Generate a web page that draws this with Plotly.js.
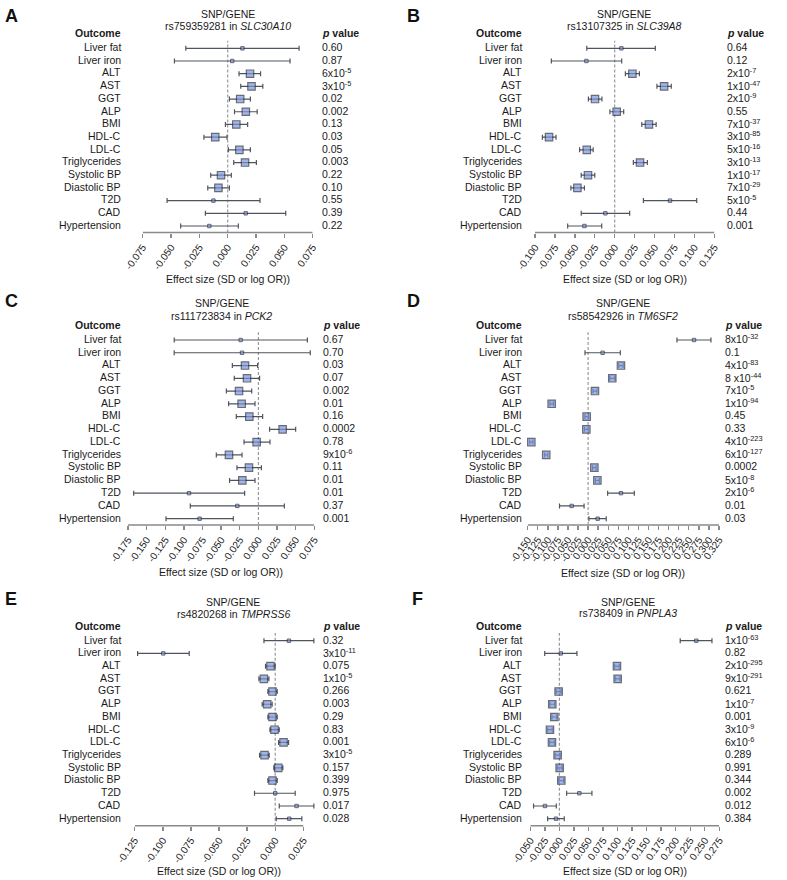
<!DOCTYPE html>
<html>
<head>
<meta charset="utf-8">
<script src="https://cdn.plot.ly/plotly-3.0.1.min.js"></script>
<style>html,body{margin:0;padding:0;background:#fff;}#chart{width:787px;height:880px;}</style>
</head>
<body>
<div id="chart"></div>
<script>
// ---------------- DATA ----------------
const outcomes = ["Liver fat","Liver iron","ALT","AST","GGT","ALP","BMI","HDL-C","LDL-C","Triglycerides","Systolic BP","Diastolic BP","T2D","CAD","Hypertension"];

// Panel A: rs759359281 in SLC30A10
const estA = [0.013, 0.004, 0.0197, 0.021, 0.011, 0.016, 0.0076, -0.011, 0.0103, 0.0153, -0.0059, -0.0082, -0.0126, 0.0159, -0.0162];
const loA  = [-0.037, -0.047, 0.010, 0.0115, 0.0015, 0.006, -0.002, -0.021, 0.0006, 0.0053, -0.015, -0.0176, -0.0535, -0.0197, -0.0415];
const hiA  = [0.063, 0.055, 0.029, 0.031, 0.020, 0.026, 0.0176, -0.0006, 0.020, 0.0253, 0.0032, 0.0015, 0.0285, 0.0512, 0.0094];
const pA   = ["0.60","0.87","6x10<sup>-5</sup>","3x10<sup>-5</sup>","0.02","0.002","0.13","0.03","0.05","0.003","0.22","0.10","0.55","0.39","0.22"];
const ticksA = [-0.075,-0.05,-0.025,0,0.025,0.05,0.075];

// Panel B: rs13107325 in SLC39A8
const estB = [0.0084, -0.0355, 0.0222, 0.062, -0.0247, 0.0025, 0.043, -0.0824, -0.035, 0.0318, -0.0335, -0.0468, 0.0694, -0.0117, -0.038];
const loB  = [-0.035, -0.0795, 0.0134, 0.053, -0.033, -0.006, 0.034, -0.0907, -0.044, 0.0234, -0.042, -0.055, 0.036, -0.042, -0.059];
const hiB  = [0.051, 0.0088, 0.031, 0.071, -0.016, 0.0113, 0.052, -0.0736, -0.027, 0.041, -0.025, -0.038, 0.1029, 0.0188, -0.0163];
const pB   = ["0.64","0.12","2x10<sup>-7</sup>","1x10<sup>-47</sup>","2x10<sup>-9</sup>","0.55","7x10<sup>-37</sup>","3x10<sup>-85</sup>","5x10<sup>-16</sup>","3x10<sup>-13</sup>","1x10<sup>-17</sup>","7x10<sup>-29</sup>","5x10<sup>-5</sup>","0.44","0.001"];
const ticksB = [-0.1,-0.075,-0.05,-0.025,0,0.025,0.05,0.075,0.1,0.125];

// Panel C: rs111723834 in PCK2
const estC = [-0.0238, -0.022, -0.018, -0.0153, -0.026, -0.0225, -0.0122, 0.0325, -0.0024, -0.0395, -0.0127, -0.0216, -0.0931, -0.0283, -0.0789];
const loC  = [-0.113, -0.113, -0.035, -0.0324, -0.043, -0.040, -0.0297, 0.015, -0.0193, -0.0565, -0.0288, -0.0387, -0.1674, -0.0914, -0.124];
const hiC  = [0.0657, 0.0696, -0.001, 0.0016, -0.009, -0.0046, 0.0057, 0.050, 0.0155, -0.022, 0.004, -0.0046, -0.0185, 0.0348, -0.0337];
const pC   = ["0.67","0.70","0.03","0.07","0.002","0.01","0.16","0.0002","0.78","9x10<sup>-6</sup>","0.11","0.01","0.01","0.37","0.001"];
const ticksC = [-0.175,-0.15,-0.125,-0.1,-0.075,-0.05,-0.025,0,0.025,0.05,0.075];

// Panel D: rs58542926 in TM6SF2
const estD = [0.263, 0.036, 0.0816, 0.060, 0.017, -0.0905, -0.0036, -0.0044, -0.141, -0.104, 0.0155, 0.023, 0.0816, -0.0408, 0.0237];
const loD  = [0.2206, -0.0077, 0.076, 0.054, 0.012, -0.095, -0.008, -0.009, -0.145, -0.108, 0.011, 0.018, 0.0485, -0.071, 0.002];
const hiD  = [0.305, 0.080, 0.087, 0.066, 0.022, -0.086, 0.001, 0.0002, -0.137, -0.100, 0.020, 0.028, 0.1147, -0.010, 0.045];
const pD   = ["8x10<sup>-32</sup>","0.1","4x10<sup>-83</sup>","8 x10<sup>-44</sup>","7x10<sup>-5</sup>","1x10<sup>-94</sup>","0.45","0.33","4x10<sup>-223</sup>","6x10<sup>-127</sup>","0.0002","5x10<sup>-8</sup>","2x10<sup>-6</sup>","0.01","0.03"];
const ticksD = [-0.15,-0.125,-0.1,-0.075,-0.05,-0.025,0,0.025,0.05,0.075,0.1,0.125,0.15,0.175,0.2,0.225,0.25,0.275,0.3,0.325];

// Panel E: rs4820268 in TMPRSS6
const estE = [0.0122, -0.0996, -0.0042, -0.0101, -0.0024, -0.0071, -0.0024, -0.0006, 0.0074, -0.0095, 0.0027, -0.0024, 0.0, 0.019, 0.0125];
const loE  = [-0.010, -0.1224, -0.0086, -0.0145, -0.0065, -0.0116, -0.0065, -0.0047, 0.003, -0.0139, -0.0012, -0.0065, -0.0184, 0.0036, 0.0009];
const hiE  = [0.0344, -0.0765, 0.0, -0.0056, 0.0018, -0.0027, 0.0018, 0.0036, 0.0119, -0.0053, 0.0068, 0.0018, 0.0178, 0.0344, 0.0237];
const pE   = ["0.32","3x10<sup>-11</sup>","0.075","1x10<sup>-5</sup>","0.266","0.003","0.29","0.83","0.001","3x10<sup>-5</sup>","0.157","0.399","0.975","0.017","0.028"];
const ticksE = [-0.125,-0.1,-0.075,-0.05,-0.025,0,0.025];

// Panel F: rs738409 in PNPLA3
const estF = [0.2354, 0.0024, 0.099, 0.1002, -0.0013, -0.0122, -0.0087, -0.0162, -0.0127, -0.003, 0.0005, 0.0033, 0.0343, -0.0248, -0.0059];
const loF  = [0.2078, -0.0252, 0.095, 0.0962, -0.0053, -0.0162, -0.0127, -0.0202, -0.0167, -0.007, -0.0035, -0.0007, 0.0125, -0.0444, -0.0202];
const hiF  = [0.2624, 0.0302, 0.103, 0.1042, 0.0027, -0.0082, -0.0047, -0.0122, -0.0087, 0.001, 0.0045, 0.0073, 0.056, -0.0053, 0.0084];
const pF   = ["1x10<sup>-63</sup>","0.82","2x10<sup>-295</sup>","9x10<sup>-291</sup>","0.621","1x10<sup>-7</sup>","0.001","3x10<sup>-9</sup>","6x10<sup>-6</sup>","0.289","0.991","0.344","0.002","0.012","0.384"];
const ticksF = [-0.05,-0.025,0,0.025,0.05,0.075,0.1,0.125,0.15,0.175,0.2,0.225,0.25,0.275];

const smallOutcomes = ["Liver fat","Liver iron","T2D","CAD","Hypertension"];

// ---------------- LAYOUT GEOMETRY (px) ----------------
const W = 787, H = 880;
const panels = [
  {letter:"A", est:estA, lo:loA, hi:hiA, p:pA, ticks:ticksA, snp:"rs759359281", gene:"SLC30A10",
   ax0:142.7, ax1:312.7, rmax:null, r0:48.3, r14:226, axY:232.5, lab:122.7, px:320, tcx:228, t1:14, t2:26, hdr:33.3, xt:279, lx:3, ly:16},
  {letter:"B", est:estB, lo:loB, hi:hiB, p:pB, ticks:ticksB, snp:"rs13107325", gene:"SLC39A8",
   ax0:535, ax1:714.3, rmax:null, r0:48.3, r14:226, axY:232.5, lab:524.3, px:725, tcx:624.3, t1:14, t2:26, hdr:33.3, xt:279, lx:405, ly:16},
  {letter:"C", est:estC, lo:loC, hi:hiC, p:pC, ticks:ticksC, snp:"rs111723834", gene:"PCK2",
   ax0:128, ax1:314.3, rmax:null, r0:340, r14:518.7, axY:525, lab:122.7, px:321, tcx:221.7, t1:303.3, t2:315.7, hdr:325, xt:572, lx:3, ly:301},
  {letter:"D", est:estD, lo:loD, hi:hiD, p:pD, ticks:ticksD, snp:"rs58542926", gene:"TM6SF2",
   ax0:527.7, ax1:719, rmax:null, r0:340, r14:518.7, axY:525, lab:524.3, px:723.3, tcx:623.3, t1:303.3, t2:315.7, hdr:325, xt:572.5, lx:405, ly:301},
  {letter:"E", est:estE, lo:loE, hi:hiE, p:pE, ticks:ticksE, snp:"rs4820268", gene:"TMPRSS6",
   ax0:134.7, ax1:303.3, rmax:0.036, r0:640.7, r14:818.7, axY:825.7, lab:122.7, px:321, tcx:233.3, t1:601.7, t2:614, hdr:625.7, xt:871, lx:3, ly:599},
  {letter:"F", est:estF, lo:loF, hi:hiF, p:pF, ticks:ticksF, snp:"rs738409", gene:"PNPLA3",
   ax0:530.3, ax1:719.3, rmax:null, r0:640.7, r14:818.7, axY:825.7, lab:524.3, px:723.3, tcx:628.3, t1:601.7, t2:613.3, hdr:625.7, xt:871, lx:410, ly:599}
];

const FONT = "Liberation Sans, Arial, Helvetica, sans-serif";
const TXT = "#1a1a1a";
const FILL = "#7b97dc";
const EDGE = "#2a2e3e";
const ERR = "#4f545e";
const AXC = "#8a8a8a";

const traces = [];
const layout = {
  width: W, height: H,
  margin: {l:0, r:0, t:0, b:0},
  paper_bgcolor: "#fff", plot_bgcolor: "rgba(0,0,0,0)",
  showlegend: false,
  font: {family: FONT, size: 10.5, color: TXT},
  annotations: [], shapes: []
};

const fx = v => v / W;
const fy = v => 1 - v / H;

panels.forEach((P, k) => {
  const n = k + 1;
  const xa = n === 1 ? "x" : "x" + n;
  const ya = n === 1 ? "y" : "y" + n;
  const xk = n === 1 ? "xaxis" : "xaxis" + n;
  const yk = n === 1 ? "yaxis" : "yaxis" + n;
  const tmin = P.ticks[0], tmax = P.ticks[P.ticks.length - 1];
  const ppu = (P.ax1 - P.ax0) / (tmax - tmin);
  const rmax = P.rmax === null ? tmax : P.rmax;
  const dx1 = P.ax0 + (rmax - tmin) * ppu;
  const s = (P.r14 - P.r0) / 14;
  const topPx = P.r0 - 0.6 * s;
  const ybot = 14 + (P.axY - P.r14) / s;

  const idx = outcomes.map((_, i) => i);
  const isSmall = outcomes.map(o => smallOutcomes.includes(o));

  // confidence intervals (drawn first, underneath)
  traces.push({
    type: "scatter", mode: "markers", xaxis: xa, yaxis: ya,
    x: P.est, y: idx, cliponaxis: false,
    error_x: {type: "data", symmetric: false,
      array: P.hi.map((h, i) => h - P.est[i]),
      arrayminus: P.lo.map((l, i) => P.est[i] - l),
      color: ERR, thickness: 1.2, width: 2.5},
    marker: {size: 1, opacity: 0},
    hoverinfo: "skip"
  });
  // point estimates on top
  traces.push({
    type: "scatter", mode: "markers", xaxis: xa, yaxis: ya,
    x: P.est, y: idx, cliponaxis: false,
    marker: {symbol: "square",
      size: isSmall.map(b => b ? 3.4 : 7.4),
      color: FILL,
      line: {color: EDGE, width: isSmall.map(b => b ? 1 : 1.2)}},
    hoverinfo: "skip"
  });

  layout[xk] = {
    domain: [fx(P.ax0), fx(dx1)], range: [tmin, rmax], anchor: ya,
    showline: false, showgrid: false, zeroline: false,
    tickmode: "array", tickvals: P.ticks,
    ticktext: P.ticks.map(t => t.toFixed(3)),
    ticks: "outside", ticklen: 4, tickwidth: 1.4, tickcolor: AXC,
    tickangle: -55, tickfont: {family: FONT, size: 10, color: TXT},
    fixedrange: true
  };
  layout[yk] = {
    domain: [fy(P.axY), fy(topPx)], range: [ybot, -0.6], anchor: xa,
    visible: false, fixedrange: true
  };

  // axis line
  layout.shapes.push({type: "line", xref: xa, yref: ya + " domain", x0: tmin, x1: tmax, y0: 0, y1: 0,
    line: {color: AXC, width: 1.6}});
  // dashed zero line
  layout.shapes.push({type: "line", xref: xa, yref: ya + " domain", x0: 0, x1: 0, y0: 0, y1: 1,
    line: {color: "#999", width: 1.2, dash: "3px,2px"}, layer: "below"});

  // outcome labels and p values
  outcomes.forEach((o, i) => {
    const yy = P.r0 + i * s - 1.2;
    layout.annotations.push({xref: "paper", yref: "paper", x: fx(P.lab), y: fy(yy), text: o,
      xanchor: "right", yanchor: "middle", showarrow: false, font: {size: 10.5}});
    layout.annotations.push({xref: "paper", yref: "paper", x: fx(P.px), y: fy(yy), text: P.p[i],
      xanchor: "left", yanchor: "middle", showarrow: false, font: {size: 10.5}});
  });
  // headers
  layout.annotations.push({xref: "paper", yref: "paper", x: fx(P.lab), y: fy(P.hdr), text: "<b>Outcome</b>",
    xanchor: "right", yanchor: "middle", showarrow: false, font: {size: 10.5}});
  layout.annotations.push({xref: "paper", yref: "paper", x: fx(P.px), y: fy(P.hdr), text: "<b><i>p</i> value</b>",
    xanchor: "left", yanchor: "middle", showarrow: false, font: {size: 10.5}});
  // titles
  layout.annotations.push({xref: "paper", yref: "paper", x: fx(P.tcx), y: fy(P.t1), text: "SNP/GENE",
    xanchor: "center", yanchor: "middle", showarrow: false, font: {size: 10.5}});
  layout.annotations.push({xref: "paper", yref: "paper", x: fx(P.tcx), y: fy(P.t2), text: P.snp + " in <i>" + P.gene + "</i>",
    xanchor: "center", yanchor: "middle", showarrow: false, font: {size: 10.5}});
  // axis title
  layout.annotations.push({xref: "paper", yref: "paper", x: fx((P.ax0 + P.ax1) / 2), y: fy(P.xt), text: "Effect size (SD or log OR))",
    xanchor: "center", yanchor: "middle", showarrow: false, font: {size: 10.5}});
  // panel letter
  layout.annotations.push({xref: "paper", yref: "paper", x: fx(P.lx), y: fy(P.ly), text: "<b>" + P.letter + "</b>",
    xanchor: "left", yanchor: "middle", showarrow: false, font: {size: 18, color: "#111"}});
});

Plotly.newPlot("chart", traces, layout, {displayModeBar: false, staticPlot: true});
</script>
</body>
</html>
